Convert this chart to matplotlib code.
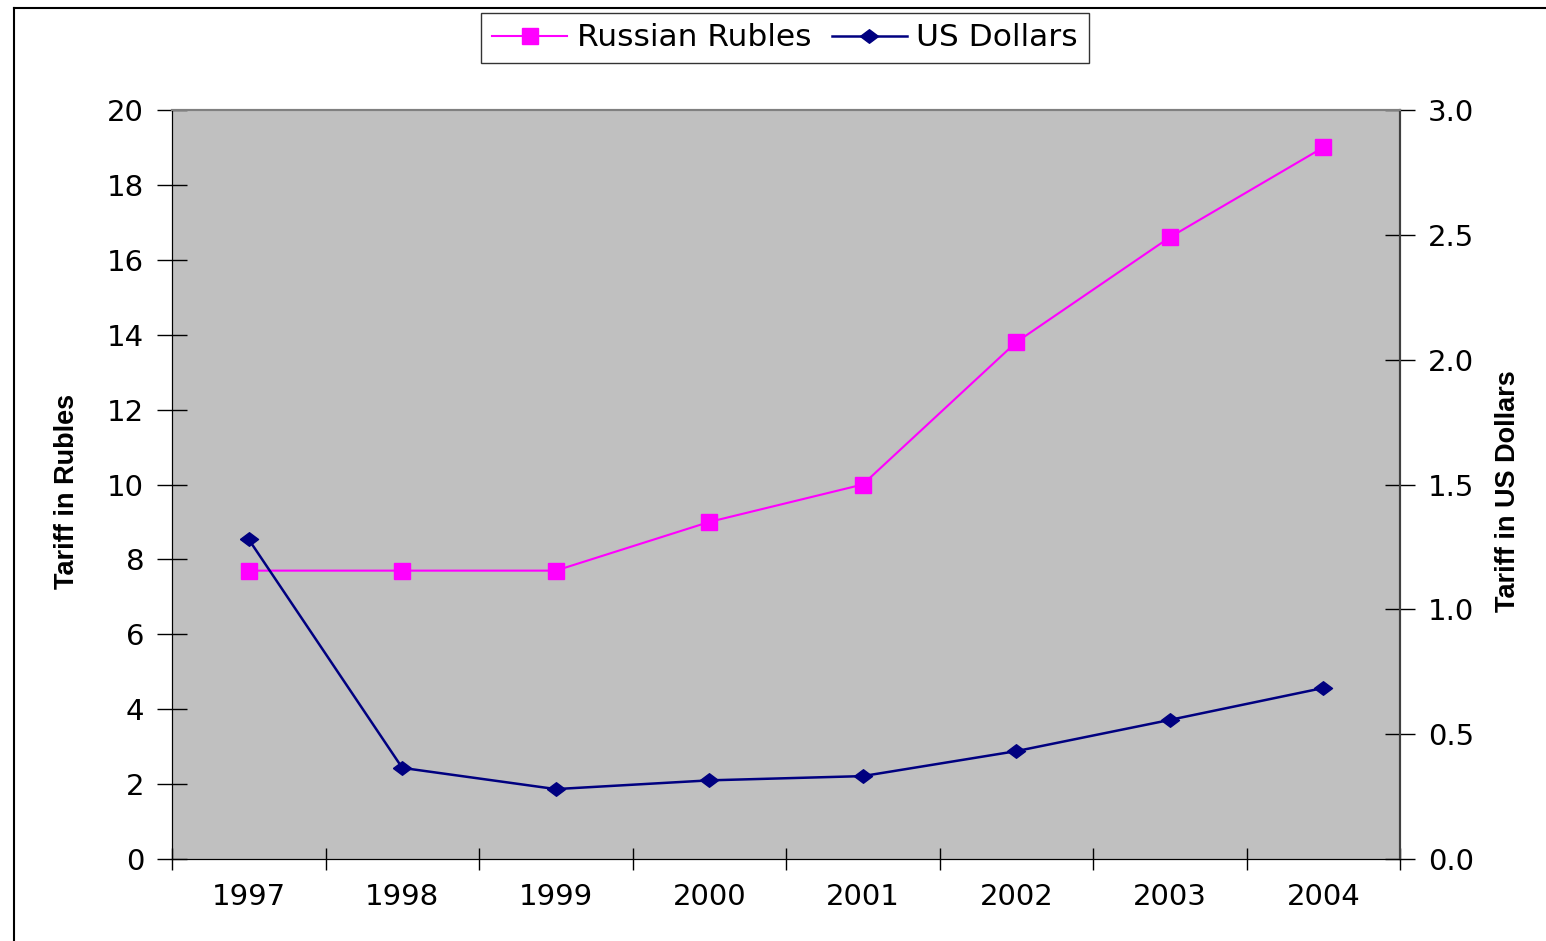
import matplotlib
import matplotlib.pyplot as plt
from matplotlib.lines import Line2D
from matplotlib.path import Path

matplotlib.use("Agg")

years = ["1997", "1998", "1999", "2000", "2001", "2002", "2003", "2004"]
rubles = [7.7, 7.7, 7.7, 9.0, 10.0, 13.8, 16.6, 19.0]
dollars = [1.28, 0.365, 0.28, 0.315, 0.332, 0.432, 0.557, 0.685]

left_ticks = list(range(0, 21, 2))
right_ticks = [0.0, 0.5, 1.0, 1.5, 2.0, 2.5, 3.0]

MAGENTA = "#FF00FF"
NAVY = "#000080"
GRAY = "#C0C0C0"

tick_font = {"family": "DejaVu Sans", "size": 21}
label_font = {"family": "Liberation Sans", "size": 19.5, "weight": "bold"}

# wide, flat diamond like the Excel marker
diamond = Path([(-1, 0), (0, 0.75), (1, 0), (0, -0.75), (-1, 0)])

fig = plt.figure(figsize=(15.46, 9.41), dpi=100)
ax = fig.add_axes([172 / 1546, 1 - 859 / 941, 1228 / 1546, 749 / 941])
ax.set_facecolor(GRAY)
ax2 = ax.twinx()
ax2.patch.set_visible(False)

x = list(range(len(years)))
ax.plot(x, rubles, color=MAGENTA, lw=1.5, marker="s", ms=11.5,
        markeredgecolor=MAGENTA, label="Russian Rubles", zorder=3)
ax2.plot(x, dollars, color=NAVY, lw=1.8, marker=diamond, ms=13,
         markeredgecolor=NAVY, label="US Dollars", zorder=3)

ax.set_xlim(-0.5, len(years) - 0.5)
ax.set_ylim(0, 20)
ax2.set_ylim(0, 3.0)

# category ticks sit between the years, labels centred on them
ax.set_xticks([i - 0.5 for i in range(len(years) + 1)])
ax.set_xticklabels([])
ax.set_xticks(x, minor=True)
ax.set_xticklabels(years, minor=True, fontdict=tick_font)
ax.tick_params(axis="x", which="major", direction="inout", length=16, width=1, color="black")
ax.tick_params(axis="x", which="minor", length=0, pad=17)

ax.set_yticks(left_ticks)
ax.set_yticklabels([str(t) for t in left_ticks], fontdict=tick_font)
ax.tick_params(axis="y", direction="inout", length=22, width=1, pad=9)

ax2.set_yticks(right_ticks)
ax2.set_yticklabels([f"{t:.1f}" for t in right_ticks], fontdict=tick_font)
ax2.tick_params(axis="y", direction="inout", length=22, width=1, pad=9)

for a in (ax, ax2):
    a.spines["top"].set_color("#808080")
    a.spines["top"].set_linewidth(1.5)
    a.spines["left"].set_color("black")
    a.spines["bottom"].set_color("black")
    a.spines["right"].set_color("#404040")
    a.spines["right"].set_linewidth(1.5)

ax.set_ylabel("Tariff in Rubles", fontdict=label_font)
ax.yaxis.set_label_coords(-0.0749, 0.491)
ax2.set_ylabel("Tariff in US Dollars", fontdict=label_font)
ax2.yaxis.set_label_coords(1.0774, 0.491)

handles = ax.get_lines() + ax2.get_lines()
leg = fig.legend(handles, [h.get_label() for h in handles], loc="center",
                 bbox_to_anchor=(785 / 1546, 1 - 38 / 941), ncol=2,
                 prop={"family": "DejaVu Sans", "size": 22.5}, frameon=True,
                 fancybox=False, edgecolor="black", handlelength=2.4,
                 handletextpad=0.3, columnspacing=0.65, borderpad=0.35,
                 borderaxespad=0)
leg.get_frame().set_linewidth(1.0)

# outer chart border
fig.add_artist(Line2D([14 / 1546, 1], [1 - 8 / 941, 1 - 8 / 941], color="black", lw=1.5))
fig.add_artist(Line2D([14 / 1546, 14 / 1546], [0, 1 - 8 / 941], color="black", lw=1.5))

fig.savefig("out.png", dpi=100)
plt.close(fig)
